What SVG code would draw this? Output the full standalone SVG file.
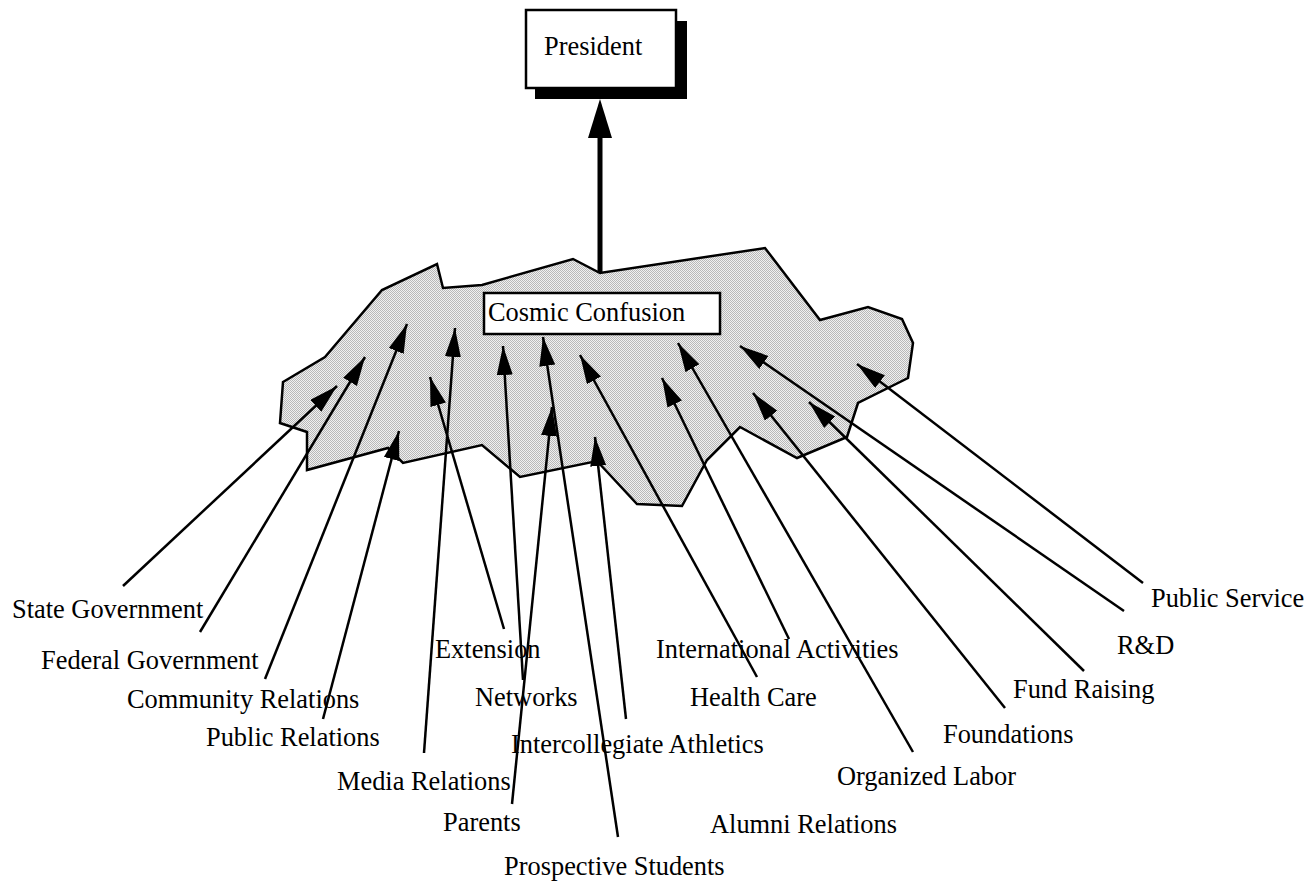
<svg xmlns="http://www.w3.org/2000/svg" width="1308" height="882" viewBox="0 0 1308 882">
  <style>
    .lbl { font-family: "Liberation Serif", "Times New Roman", serif; font-size: 26.4px; fill: #000; }
    .conn { stroke: #000; stroke-width: 2.5; fill: none; }
    .box { fill: #fff; stroke: #000; stroke-width: 2.5; }
  </style>
  <defs>
    <pattern id="stipple" width="2" height="2" patternUnits="userSpaceOnUse">
      <rect width="2" height="2" fill="#f0f0f0"/>
      <rect x="0" y="0" width="1" height="1" fill="#b8b8b8"/>
      <rect x="1" y="1" width="1" height="1" fill="#b8b8b8"/>
    </pattern>
    <marker id="ah" markerUnits="userSpaceOnUse" markerWidth="32" markerHeight="18" refX="29" refY="8" orient="auto">
      <path d="M0,0 L29,8 L0,16 z" fill="#000"/>
    </marker>
  </defs>

  <g id="cosmic-cloud">
    <polygon points="283,382 325,357 382,290 437,264 443,288 482,285 573,259 600,273 765,248 820,320 868,307 902,319 913,343 908,378 858,403 847,437 797,458 740,427 707,460 682,506 637,504 597,461 520,477 482,445 403,463 388,448 307,470 307,432 280,423" fill="url(#stipple)" stroke="#000" stroke-width="2.5" stroke-linejoin="miter"/>
  </g>

  <g id="president">
    <rect x="535" y="21" width="152" height="78" fill="#000"/>
    <rect class="box" x="526" y="10" width="150" height="78"/>
    <text class="lbl" x="544" y="55">President</text>
  </g>

  <g id="cosmic-confusion">
    <rect class="box" x="484" y="293" width="236" height="41"/>
    <text class="lbl" x="488" y="321">Cosmic Confusion</text>
  </g>

  <g id="connectors">
    <line x1="600" y1="273" x2="600" y2="136" stroke="#000" stroke-width="5"/>
    <polygon points="600,99 588,138 612,138" fill="#000"/>
    <line class="conn" x1="123" y1="586" x2="337" y2="386" marker-end="url(#ah)"/>
    <line class="conn" x1="200" y1="632" x2="365" y2="357" marker-end="url(#ah)"/>
    <line class="conn" x1="265" y1="679" x2="407" y2="324" marker-end="url(#ah)"/>
    <line class="conn" x1="323" y1="719" x2="399" y2="431" marker-end="url(#ah)"/>
    <line class="conn" x1="424" y1="753" x2="455" y2="328" marker-end="url(#ah)"/>
    <line class="conn" x1="504" y1="629" x2="430" y2="377" marker-end="url(#ah)"/>
    <line class="conn" x1="523" y1="680" x2="503" y2="346" marker-end="url(#ah)"/>
    <line class="conn" x1="512" y1="804" x2="552" y2="407" marker-end="url(#ah)"/>
    <line class="conn" x1="618" y1="837" x2="543" y2="337" marker-end="url(#ah)"/>
    <line class="conn" x1="626" y1="719" x2="595" y2="437" marker-end="url(#ah)"/>
    <line class="conn" x1="757" y1="677" x2="580" y2="355" marker-end="url(#ah)"/>
    <line class="conn" x1="789" y1="639" x2="662" y2="378" marker-end="url(#ah)"/>
    <line class="conn" x1="913" y1="752" x2="678" y2="343" marker-end="url(#ah)"/>
    <line class="conn" x1="1005" y1="708" x2="753" y2="393" marker-end="url(#ah)"/>
    <line class="conn" x1="1084" y1="671" x2="809" y2="402" marker-end="url(#ah)"/>
    <line class="conn" x1="1124" y1="611" x2="740" y2="346" marker-end="url(#ah)"/>
    <line class="conn" x1="1143" y1="583" x2="857" y2="364" marker-end="url(#ah)"/>
  </g>

  <g id="state-government"><text class="lbl" x="12" y="618">State Government</text></g>
  <g id="federal-government"><text class="lbl" x="41" y="669">Federal Government</text></g>
  <g id="community-relations"><text class="lbl" x="127" y="708">Community Relations</text></g>
  <g id="public-relations"><text class="lbl" x="206" y="746">Public Relations</text></g>
  <g id="media-relations"><text class="lbl" x="337" y="790">Media Relations</text></g>
  <g id="parents"><text class="lbl" x="443" y="831">Parents</text></g>
  <g id="prospective-students"><text class="lbl" x="504" y="875">Prospective Students</text></g>
  <g id="extension"><text class="lbl" x="435" y="658">Extension</text></g>
  <g id="networks"><text class="lbl" x="475" y="706">Networks</text></g>
  <g id="intercollegiate-athletics"><text class="lbl" x="511" y="753">Intercollegiate Athletics</text></g>
  <g id="international-activities"><text class="lbl" x="656" y="658">International Activities</text></g>
  <g id="health-care"><text class="lbl" x="690" y="706">Health Care</text></g>
  <g id="alumni-relations"><text class="lbl" x="710" y="833">Alumni Relations</text></g>
  <g id="organized-labor"><text class="lbl" x="837" y="785">Organized Labor</text></g>
  <g id="foundations"><text class="lbl" x="943" y="743">Foundations</text></g>
  <g id="fund-raising"><text class="lbl" x="1013" y="698">Fund Raising</text></g>
  <g id="r-and-d"><text class="lbl" x="1117" y="654">R&amp;D</text></g>
  <g id="public-service"><text class="lbl" x="1151" y="607">Public Service</text></g>
</svg>
